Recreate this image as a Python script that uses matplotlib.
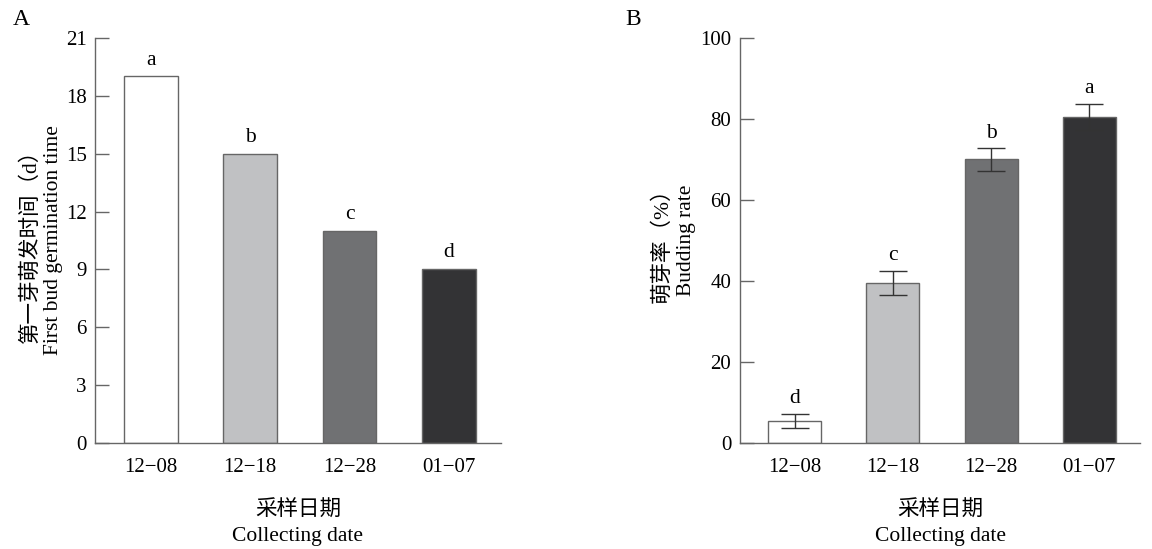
import matplotlib.pyplot as plt
import numpy as np

# 数据
fechas = ['12−08', '12−18', '12−28', '01−07']
tiempo_germ = [19, 15, 11, 9]
letras_A = ['a', 'b', 'c', 'd']
tasa_brote = [5.5, 39.5, 70.0, 80.5]
error_brote = [1.7, 3.0, 2.8, 3.3]
letras_B = ['d', 'c', 'b', 'a']
colores = ['#ffffff', '#c0c1c3', '#707173', '#333335']

fuente = ['Liberation Serif', 'Noto Sans CJK SC']
plt.rcParams['font.family'] = fuente
plt.rcParams['font.size'] = 14

fig = plt.figure(figsize=(11.52, 5.49), dpi=100)
ax1 = fig.add_axes([0.0825, 0.193, 0.352, 0.738])
ax2 = fig.add_axes([0.642, 0.193, 0.348, 0.738])

x = np.arange(len(fechas))
ancho = 0.54
gris = '#666666'


def estilo(ax):
    for s in ['top', 'right']:
        ax.spines[s].set_visible(False)
    for s in ['left', 'bottom']:
        ax.spines[s].set_color(gris)
        ax.spines[s].set_linewidth(1.0)
    ax.tick_params(axis='y', direction='in', length=10, width=1.0, color=gris,
                   labelsize=15, pad=6)
    ax.tick_params(axis='x', length=0, labelsize=15, pad=11)
    ax.set_xticks(x)
    ax.set_xticklabels(fechas)
    ax.set_xlim(-0.56, 3.52)
    ax.set_xlabel('采样日期\nCollecting date', fontsize=15.5, labelpad=17,
                  linespacing=1.45)


# Panel A
ax1.bar(x, tiempo_germ, ancho, color=colores, edgecolor=gris, linewidth=1.0)
for xi, v, l in zip(x, tiempo_germ, letras_A):
    ax1.annotate(l, (xi, v), xytext=(0, 5), textcoords='offset points',
                 ha='center', va='bottom', fontsize=15.5)
ax1.set_ylim(0, 21)
ax1.set_yticks(range(0, 22, 3))
estilo(ax1)
ax1.set_ylabel('第一芽萌发时间（d）\nFirst bud germination time', fontsize=15.5,
               labelpad=2, linespacing=1.2)

# Panel B
ax2.bar(x, tasa_brote, ancho, color=colores, edgecolor=gris, linewidth=1.0)
ax2.errorbar(x, tasa_brote, yerr=error_brote, fmt='none', ecolor='#333333',
             elinewidth=1.0, capsize=10, capthick=1.0)
for xi, v, e, l in zip(x, tasa_brote, error_brote, letras_B):
    ax2.annotate(l, (xi, v + e), xytext=(0, 4), textcoords='offset points',
                 ha='center', va='bottom', fontsize=15.5)
ax2.set_ylim(0, 100)
ax2.set_yticks(range(0, 101, 20))
estilo(ax2)
ax2.set_ylabel('萌芽率（%）\nBudding rate', fontsize=15.5, labelpad=3,
               linespacing=1.3)

fig.text(0.011, 0.955, 'A', fontsize=17)
fig.text(0.543, 0.955, 'B', fontsize=17)

plt.savefig('out.png', dpi=100)
